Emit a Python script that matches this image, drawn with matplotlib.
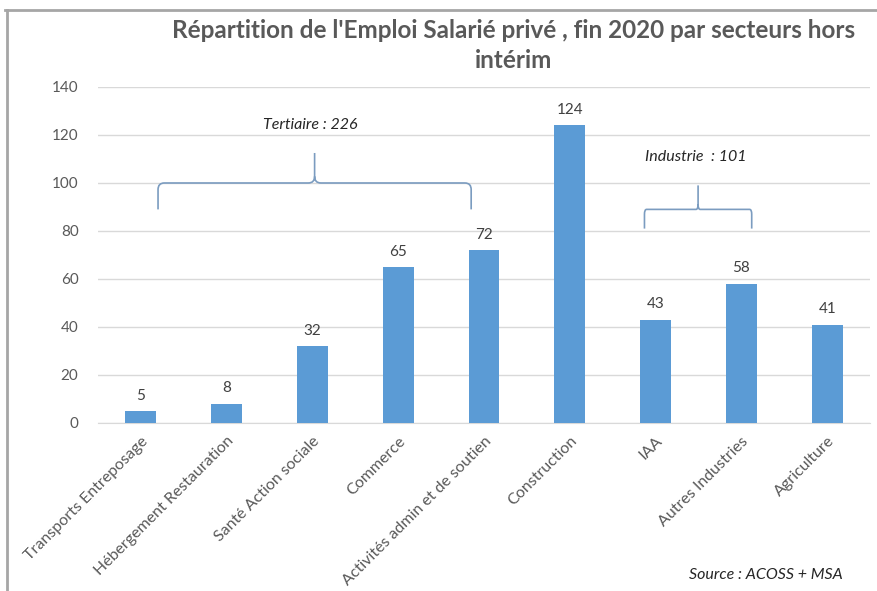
import matplotlib.pyplot as plt
from matplotlib.path import Path
from matplotlib.patches import PathPatch
from matplotlib.lines import Line2D

# ---- #
# data #
# ---- #
secteurs = ["Transports Entreposage", "Hébergement Restauration", "Santé Action sociale",
            "Commerce", "Activités admin et de soutien", "Construction", "IAA",
            "Autres Industries", "Agriculture"]
emplois = [5, 8, 32, 65, 72, 124, 43, 58, 41]
groupes = ["Tertiaire : 226", "Industrie  : 101"]

plt.rcParams['font.family'] = ['Lato', 'DejaVu Sans']
grey = '#595959'
bar_col = '#5b9bd5'
brace_col = '#7b9cc0'

fig = plt.figure(figsize=(8.78, 5.91), dpi=100)
ax = fig.add_axes([0.1116, 0.2843, 0.8794, 0.5685])

x = range(len(secteurs))
bars = ax.bar(x, emplois, width=0.36, color=bar_col, zorder=3)
for xi, v in zip(x, emplois):
    ax.text(xi, v + 3.5, str(v), ha='center', va='bottom', fontsize=11, color='#404040')

ax.set_xlim(-0.5, 8.5)
ax.set_ylim(0, 140)
ax.set_yticks(range(0, 141, 20))
ax.yaxis.grid(True, color='#d9d9d9', linewidth=1)
ax.set_axisbelow(True)
for s in ['top', 'right', 'left']:
    ax.spines[s].set_visible(False)
ax.spines['bottom'].set_color('#d9d9d9')
ax.tick_params(axis='both', length=0, colors=grey, labelsize=11)
ax.tick_params(axis='y', pad=14)
ax.tick_params(axis='x', pad=8)
ax.set_xticks(list(x))
ax.set_xticklabels(secteurs, rotation=45, ha='right', rotation_mode='anchor', fontsize=11.5)


# accolades
def brace(x0, x1, y, y_end, y_tip):
    xm = (x0 + x1) / 2
    r = (x1 - x0) * 0.02
    d = (y - y_end) * 0.25
    verts = [(x0, y_end), (x0, y - d), (x0, y), (x0 + r, y),
             (xm - r, y), (xm, y), (xm, y + d), (xm, y_tip),
             (xm, y + d), (xm, y), (xm + r, y),
             (x1 - r, y), (x1, y), (x1, y - d), (x1, y_end)]
    codes = [Path.MOVETO, Path.LINETO, Path.CURVE3, Path.CURVE3,
             Path.LINETO, Path.CURVE3, Path.CURVE3, Path.LINETO,
             Path.MOVETO, Path.CURVE3, Path.CURVE3,
             Path.LINETO, Path.CURVE3, Path.CURVE3, Path.LINETO]
    ax.add_patch(PathPatch(Path(verts, codes), fill=False, edgecolor=brace_col,
                           linewidth=1.2, zorder=4))


brace(0.2, 3.85, 100, 89, 112.5)
brace(5.87, 7.12, 89, 81, 99)
ax.text(1.97, 124, groupes[0], ha='center', va='center', style='italic',
        fontsize=11.5, color='#262626')
ax.text(6.47, 111, groupes[1], ha='center', va='center', style='italic',
        fontsize=11.5, color='#262626')

fig.text(0.585, 0.949, "Répartition de l'Emploi Salarié privé , fin 2020 par secteurs hors",
         ha='center', va='center', fontsize=17.5, fontweight='bold', color=grey)
fig.text(0.585, 0.897, "intérim", ha='center', va='center', fontsize=17.5,
         fontweight='bold', color=grey)
fig.text(0.96, 0.027, "Source : ACOSS + MSA", ha='right', va='center', style='italic',
         fontsize=11.5, color='#262626')

# cadre
fig.add_artist(Line2D([0.006, 1.0], [0.983, 0.983], color='#a6a6a6', linewidth=2,
                      transform=fig.transFigure))
fig.add_artist(Line2D([0.008, 0.008], [0.0, 0.983], color='#a6a6a6', linewidth=2,
                      transform=fig.transFigure))

fig.savefig('out.png', dpi=100)
